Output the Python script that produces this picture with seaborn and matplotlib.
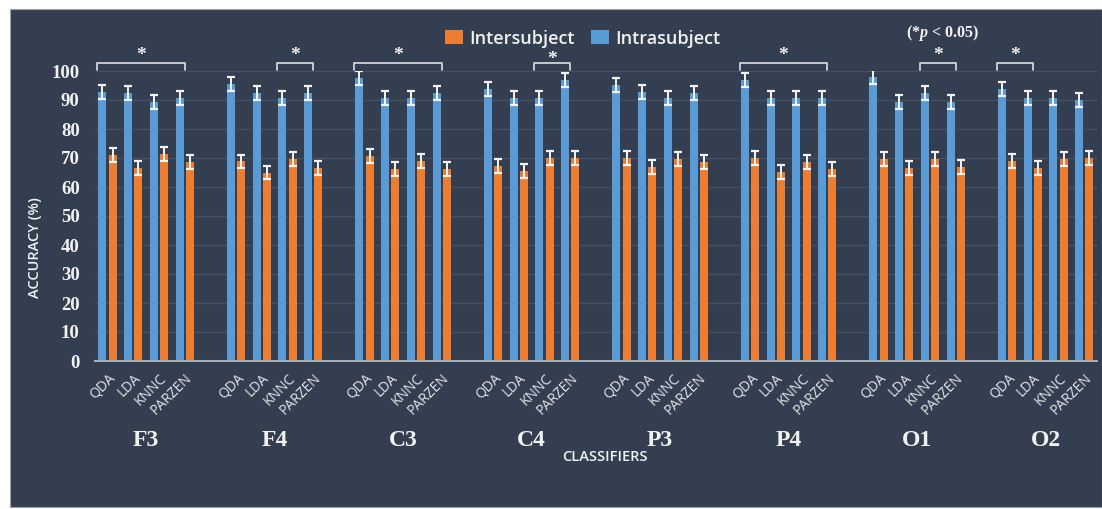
import numpy as np
import pandas as pd
import matplotlib
matplotlib.use("Agg")
import matplotlib.pyplot as plt
from matplotlib.patches import Rectangle
from matplotlib.font_manager import FontProperties
import seaborn as sns

# ---- data -------------------------------------------------------------
channels = ["F3", "F4", "C3", "C4", "P3", "P4", "O1", "O2"]
classifiers = ["QDA", "LDA", "KNNC", "PARZEN"]

intrasubject = [
    [92.8, 92.3, 89.2, 90.7],   # F3
    [95.4, 92.3, 90.7, 92.3],   # F4
    [97.7, 90.7, 90.7, 92.3],   # C3
    [93.7, 90.7, 90.7, 96.9],   # C4
    [95.3, 92.8, 90.7, 92.3],   # P3
    [96.9, 90.7, 90.7, 90.7],   # P4
    [97.8, 89.2, 92.3, 89.2],   # O1
    [93.7, 90.7, 90.7, 89.9],   # O2
]
intersubject = [
    [71.0, 66.4, 71.5, 68.5],   # F3
    [68.8, 65.0, 69.6, 66.7],   # F4
    [70.8, 66.1, 68.9, 66.3],   # C3
    [67.1, 65.5, 69.9, 69.9],   # C4
    [70.1, 67.0, 69.6, 68.5],   # P3
    [70.1, 65.3, 68.5, 66.1],   # P4
    [69.6, 66.6, 69.5, 66.8],   # O1
    [68.9, 66.6, 69.5, 70.1],   # O2
]
sem = {"Intrasubject": 2.4, "Intersubject": 2.4}

# significant comparisons: (channel, first classifier, last classifier)
significant = [
    ("F3", "QDA", "PARZEN"),
    ("F4", "KNNC", "PARZEN"),
    ("C3", "QDA", "PARZEN"),
    ("C4", "KNNC", "PARZEN"),
    ("P4", "QDA", "PARZEN"),
    ("O1", "KNNC", "PARZEN"),
    ("O2", "QDA", "LDA"),
]

# ---- layout helpers ---------------------------------------------------
SLOTS = len(classifiers) + 1          # one empty slot between channel groups


def slot(ch, clf):
    return channels.index(ch) * SLOTS + classifiers.index(clf)


rows = []
for ch, vals_a, vals_e in zip(channels, intrasubject, intersubject):
    for clf, va, ve in zip(classifiers, vals_a, vals_e):
        rows.append({"pos": slot(ch, clf), "series": "Intrasubject", "acc": va})
        rows.append({"pos": slot(ch, clf), "series": "Intersubject", "acc": ve})
df = pd.DataFrame(rows)

BG = "#333f50"
GRID = "#435066"
TXT = "#f2f2f2"
BLUE = "#5b9bd5"
ORANGE = "#ed7d31"

sns.set_style("dark")
plt.rcParams["font.family"] = ["Open Sans", "DejaVu Sans"]
plt.rcParams["mathtext.fontset"] = "custom"
plt.rcParams["mathtext.rm"] = "Liberation Serif:bold"
plt.rcParams["mathtext.bfit"] = "Liberation Serif:bold:italic"
plt.rcParams["mathtext.it"] = "Liberation Serif:bold:italic"

serif_tick = FontProperties(family="Liberation Serif", weight="bold", size=13.5)

W, H = 1102, 509
fig = plt.figure(figsize=(W / 100, H / 100), dpi=100, facecolor="white")

# dark panel behind the chart
fig.patches.append(Rectangle((10 / W, 2 / H), 1092 / W, 498 / H,
                             transform=fig.transFigure, facecolor=BG,
                             edgecolor="#9aa0a8", linewidth=0.8, zorder=-10))

ax = fig.add_axes([95 / W, (H - 361) / H, 1002 / W, 290 / H])
ax.set_facecolor(BG)
ax.patch.set_alpha(0)

sns.barplot(data=df, x="pos", y="acc", hue="series", native_scale=True,
            hue_order=["Intrasubject", "Intersubject"],
            palette={"Intrasubject": BLUE, "Intersubject": ORANGE},
            width=0.8, gap=0.22, errorbar=None, saturation=1,
            linewidth=0, ax=ax, zorder=3)

# error bars on top of each bar
for series, cont in zip(["Intrasubject", "Intersubject"], ax.containers):
    xs = [b.get_x() + b.get_width() / 2 for b in cont]
    ys = [b.get_height() for b in cont]
    ax.errorbar(xs, ys, yerr=sem[series], fmt="none", ecolor="#f4f4f4",
                elinewidth=1.4, capsize=3, capthick=1.6, zorder=4)

ax.set_xlim(-0.49, 38.5)
ax.set_ylim(0, 100)
ax.set_yticks(range(0, 101, 10))
ax.tick_params(axis="y", length=0, pad=11, labelcolor=TXT)
ax.set_yticklabels([str(v) for v in range(0, 101, 10)],
                   fontproperties=serif_tick)

xt = [slot(ch, clf) for ch in channels for clf in classifiers]
ax.set_xticks(xt)
ax.tick_params(axis="x", length=0, pad=7, labelsize=10, labelcolor="#e4e6ea")
ax.set_xticklabels(classifiers * len(channels), rotation=45, ha="right",
                   va="top", rotation_mode="anchor", fontsize=10)

ax.grid(axis="y", color=GRID, linewidth=1, zorder=0)
ax.grid(axis="x", visible=False)
for s in ["top", "right", "left"]:
    ax.spines[s].set_visible(False)
ax.spines["bottom"].set_color("#a6acb4")
ax.spines["bottom"].set_linewidth(1.5)
ax.spines["bottom"].set_zorder(5)

ax.set_xlabel("")
ax.set_ylabel("ACCURACY (%)", fontsize=10.5, color=TXT, fontweight="semibold")
ax.yaxis.set_label_coords(-0.053, 0.39)

# channel names under each group
for g, ch in enumerate(channels):
    ax.text(g * SLOTS + 1.5, -27.3, ch, ha="center", va="center",
            family="Liberation Serif", fontweight="bold", fontsize=17,
            color=TXT, clip_on=False)
fig.text(605 / W, (H - 457) / H, "CLASSIFIERS", ha="center", va="center",
         fontsize=10.5, fontweight="semibold", color=TXT)

# significance brackets (the C4 star sits a little lower, below the legend)
for ch, a, b in significant:
    x0 = slot(ch, a) - 0.4
    x1 = slot(ch, b)
    ax.plot([x0, x0, x1, x1], [100.3, 102.9, 102.9, 100.3], color="#d0d4da",
            linewidth=1.3, clip_on=False, zorder=5)
    star_y = 104.0 if ch == "C4" else 105.5
    ax.text((x0 + x1) / 2, star_y, "*", ha="center", va="center",
            family="Liberation Serif", fontweight="bold", fontsize=14,
            color=TXT, clip_on=False)

fig.text(943 / W, (H - 33) / H, r"(*$\mathbfit{p}$ < 0.05)", ha="center",
         va="center", family="Liberation Serif", fontweight="bold",
         fontsize=11.5, color=TXT)

# legend: Intersubject first
handles, labels = ax.get_legend_handles_labels()
order = [labels.index("Intersubject"), labels.index("Intrasubject")]
ax.legend([handles[i] for i in order], [labels[i] for i in order],
          loc="center", bbox_to_anchor=(583 / W, (H - 38.5) / H),
          bbox_transform=fig.transFigure, ncol=2, frameon=False,
          handlelength=1.0, handleheight=0.8, borderpad=0.2,
          handletextpad=0.35, columnspacing=0.9, labelcolor=TXT,
          prop={"weight": "semibold", "size": 13})

fig.savefig("out.png", dpi=100, facecolor="white")
